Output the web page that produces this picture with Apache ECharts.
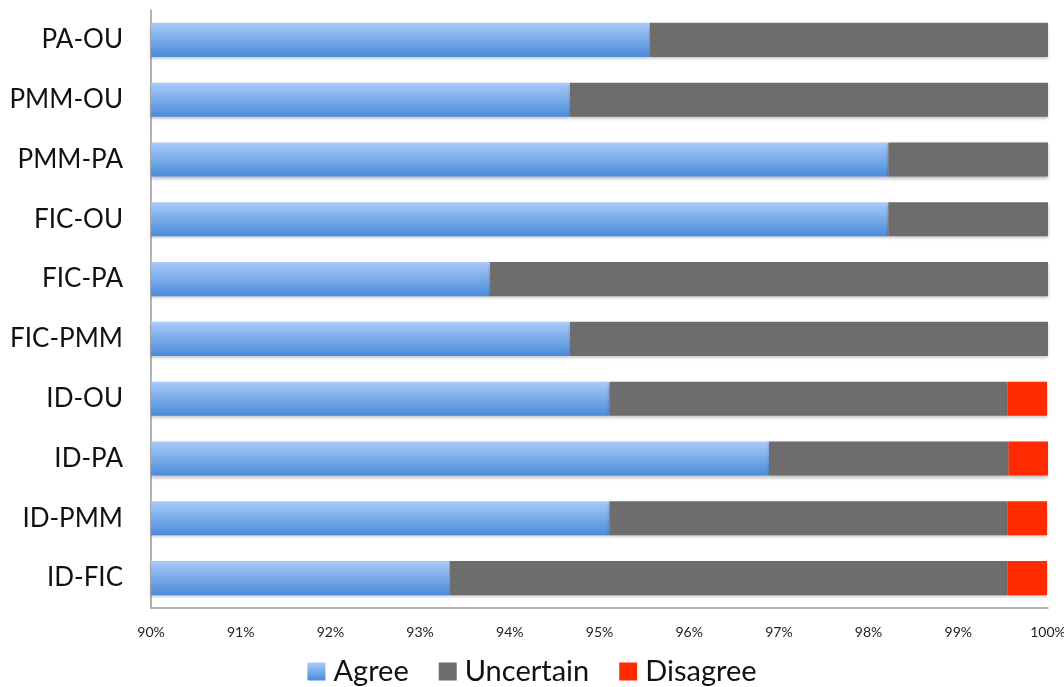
<!DOCTYPE html>
<html>
<head>
<meta charset="utf-8">
<script src="https://cdn.jsdelivr.net/npm/echarts@6/dist/echarts.min.js"></script>
<style>html,body{margin:0;padding:0;background:#fff;}#c{width:1064px;height:687px;}</style>
</head>
<body>
<div id="c"></div>
<script>
const categories = ['PA-OU','PMM-OU','PMM-PA','FIC-OU','FIC-PA','FIC-PMM','ID-OU','ID-PA','ID-PMM','ID-FIC'];
const agree =     [95.56, 94.67, 98.22, 98.22, 93.78, 94.67, 95.11, 96.89, 95.11, 93.33];
const uncertain = [4.44, 5.33, 1.78, 1.78, 6.22, 5.33, 4.44, 2.67, 4.44, 6.22];
const disagree =  [0, 0, 0, 0, 0, 0, 0.44, 0.44, 0.44, 0.44];
const xTicks = ['90%','91%','92%','93%','94%','95%','96%','97%','98%','99%','100%'];

const font = 'Lato, "Open Sans", sans-serif';
const shadow = {shadowColor:'rgba(0,0,0,0.25)', shadowBlur:3, shadowOffsetY:2};
const chart = echarts.init(document.getElementById('c'));
chart.setOption({
  animation:false,
  grid:{left:151, right:16, top:10, bottom:79, containLabel:false, outerBoundsMode:'none'},
  legend:{
    bottom:-4, left:'center', itemWidth:18, itemHeight:18, itemGap:30,
    icon:'rect',
    textStyle:{fontFamily:font, fontSize:29, color:'#111', padding:[0,0,0,3]},
    data:['Agree','Uncertain','Disagree']
  },
  xAxis:{
    type:'value', min:90, max:100, interval:1,
    axisLine:{show:true, lineStyle:{color:'#999', width:1.5}},
    axisTick:{show:false},
    splitLine:{show:false},
    axisLabel:{fontFamily:font, fontSize:14, color:'#222', margin:17,
      formatter:(v)=>xTicks[Math.round(v-90)]}
  },
  yAxis:{
    type:'category', data:categories, inverse:true,
    axisLine:{show:true, lineStyle:{color:'#999', width:1.5}},
    axisTick:{show:false},
    axisLabel:{fontFamily:font, fontSize:26, color:'#111', margin:28}
  },
  series:[
    {name:'Agree', type:'bar', stack:'s', data:agree, barWidth:'57%',
      itemStyle:Object.assign({color:new echarts.graphic.LinearGradient(0,0,0,1,[
        {offset:0,color:'#a9cbfa'},{offset:1,color:'#4a8bd9'}])}, shadow)},
    {name:'Uncertain', type:'bar', stack:'s', data:uncertain,
      itemStyle:Object.assign({color:'#6d6d6d'}, shadow)},
    {name:'Disagree', type:'bar', stack:'s', data:disagree,
      itemStyle:Object.assign({color:'#ff2a00'}, shadow)}
  ]
});
</script>
</body>
</html>
